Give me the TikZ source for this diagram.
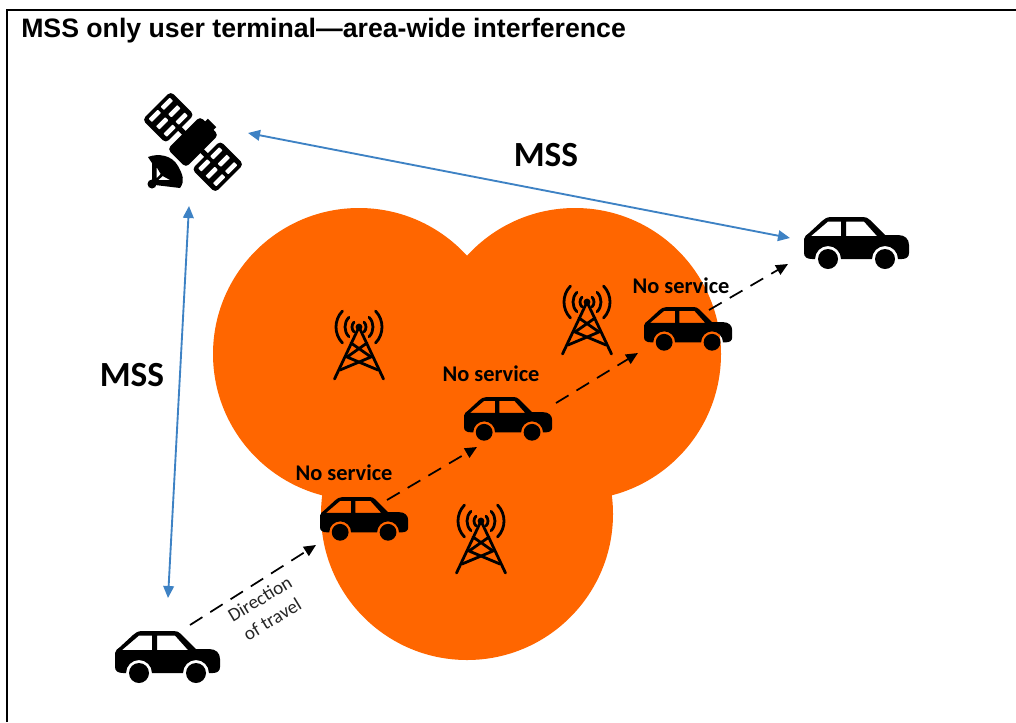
\documentclass[tikz,border=0pt]{standalone}
\usepackage{fontspec}
\setmainfont{Liberation Sans}
\newfontfamily\calibri{Carlito}
\definecolor{morange}{RGB}{255,102,0}
\definecolor{mblue}{RGB}{62,130,196}
\usetikzlibrary{arrows.meta}

\tikzset{
    cellzone/.style={circle, fill=morange, minimum size=219pt, inner sep=0pt},
    link/.style={{Triangle[length=9,width=8]}-{Triangle[length=9,width=8]}, mblue, line width=1.4pt},
    travel/.style={-{Triangle[length=9,width=8]}, black, line width=1.3pt, dash pattern=on 11pt off 7pt},
    mss/.style={font=\calibri\bfseries\fontsize{26.5}{27}\selectfont},
    noservice/.style={font=\calibri\bfseries\fontsize{16.8}{17}\selectfont},
    pics/car/.style={code={
        \fill[even odd rule] (0,22) .. controls (0,19) and (3,18) .. (5,16) -- (18,4) .. controls (20,2) and (23,0) .. (27,0)
            -- (59,0) .. controls (62,0) and (64,1) .. (66,3) -- (81,18) -- (94,18) .. controls (101,18) and (105,22) .. (105,28)
            -- (105,36) .. controls (105,40) and (102,42) .. (98,42) -- (94,42) arc[start angle=0, end angle=-180, radius=13]
            -- (37,42) arc[start angle=0, end angle=-180, radius=13] -- (8,42) .. controls (3,42) and (0,40) .. (0,36) -- cycle
            (7,19) -- (24,4.5) -- (37,4.5) -- (37,19) -- cycle
            (42,4.5) -- (60,4.5) -- (73,19) -- (42,19) -- cycle;
        \fill (24,42) circle[radius=10];
        \fill (81,42) circle[radius=10];
    }},
    pics/tower/.style={code={
        \begin{scope}[line width=2.1pt, line cap=round]
        \fill (0,0) circle[radius=3.4];
        \draw (-24.5,52) -- (0,0) -- (24.5,52);
        \draw (-8,16) -- (12,30) (8,16) -- (-12,30) (-12,30) -- (19,43) (12,30) -- (-19,43);
        \foreach \r in {7,14,23} {
            \draw (0,0) ++(-44:\r) arc[start angle=-44, end angle=44, radius=\r];
            \draw (0,0) ++(136:\r) arc[start angle=136, end angle=224, radius=\r];
        }
        \end{scope}
    }},
    pics/solarpanel/.style={code={
        \fill[rounded corners=3] (-16.5,-20) rectangle (16.5,20);
        \foreach \a in {-10.5,0,10.5} \foreach \b in {-8.5,8.5}
            \fill[white, rounded corners=0.5] (\a-2.3,\b-6.5) rectangle (\a+2.3,\b+6.5);
    }}
}

\begin{document}
\begin{tikzpicture}[x=0.75pt, y=-0.75pt]
    \useasboundingbox (0,0) rectangle (1016,722);
    %Frame
    \draw[line width=1.8pt] (7,722) -- (7,10) -- (1016,10);
    \node[anchor=west, inner sep=0pt, font=\bfseries\fontsize{20}{22}\selectfont] (title) at (21,31) {MSS only user terminal---area-wide interference};

    %Cells
    \node[cellzone] (cellA) at (359,354) {};
    \node[cellzone] (cellB) at (575,354) {};
    \node[cellzone] (cellC) at (467,514) {};

    %Satellite
    \begin{scope}[shift={(193,142)}, rotate=-45]
        \pic[transform shape] at (-35,0) {solarpanel};
        \pic[transform shape] at (35,0) {solarpanel};
        \fill[rounded corners=3] (-13,-23) rectangle (13,23);
        \fill (-20,-2.5) rectangle (20,2.5);
        \fill (-6,-27) rectangle (6,-21);
    \end{scope}
    \fill[even odd rule] (148,157) .. controls (158,153) and (172,155) .. (178,166) .. controls (183,175) and (185,181) .. (180,188)
        -- (155,185) -- (152,187) -- (152,163) -- cycle
        (156.7,167.3) -- (160.7,174) -- (156.7,178.3) -- cycle
        (162.7,176) -- (170,180) -- (158.3,180) -- cycle;
    \fill (152,184) circle[radius=4.5];

    %Towers
    \pic at (359,327) {tower};
    \pic at (587,302) {tower};
    \pic at (481,521) {tower};

    %Cars
    \pic at (115,631) {car};
    \pic at (804,217) {car};
    \pic[scale=0.84] at (320,497) {car};
    \pic[scale=0.84] at (464,397) {car};
    \pic[scale=0.84] at (644,307) {car};

    %Labels
    \node[mss] (mssA) at (546,155) {MSS};
    \node[mss] (mssB) at (132,375) {MSS};
    \node[noservice] (noA) at (344,473) {No service};
    \node[noservice] (noB) at (491,374) {No service};
    \node[noservice] (noC) at (681,286) {No service};
    \node[rotate=31, align=center, font=\calibri\fontsize{14.3}{18}\selectfont, text=black!85] (dirlabel) at (266,609) {Direction\\of travel};

    %Lines
    \coordinate (satS) at (189,206);
    \coordinate (satE) at (248,133);
    \coordinate (carAN) at (168,598);
    \coordinate (carAE) at (190,625);
    \coordinate (carBW) at (316,545);
    \coordinate (carBE) at (387,500);
    \coordinate (carCW) at (477,447);
    \coordinate (carCE) at (556,403);
    \coordinate (carDW) at (638,353);
    \coordinate (carDE) at (709,310);
    \coordinate (carEW) at (790,238);
    \coordinate (carES) at (788,264);
    \draw[link] (satS) -- (carAN);
    \draw[link] (satE) -- (carEW);
    \draw[travel] (carAE) -- (carBW);
    \draw[travel] (carBE) -- (carCW);
    \draw[travel] (carCE) -- (carDW);
    \draw[travel] (carDE) -- (carES);
\end{tikzpicture}
\end{document}
